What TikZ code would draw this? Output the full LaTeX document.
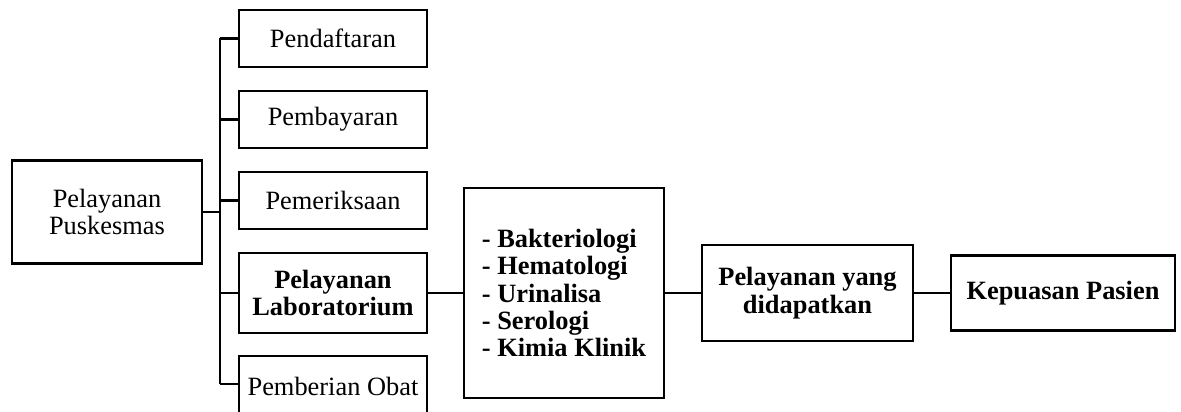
\documentclass[tikz,border=0pt]{standalone}
\usepackage{fontspec}
\setmainfont{Liberation Serif}
\begin{document}
\begin{tikzpicture}[x=1pt,y=-1pt,
  box/.style={draw, line width=2.2pt, inner sep=2pt, align=center,
    font=\fontsize{26.4}{27.4}\selectfont},
  conn/.style={line width=2.2pt}]
\useasboundingbox (0,0) rectangle (1181,412);
\node[box, minimum width=190pt, minimum height=103pt] (pus) at (107,212) {Pelayanan\\Puskesmas};
\node[box, minimum width=188pt, minimum height=57pt] (pend) at (333,38.5) {Pendaftaran};
\node[box, minimum width=188pt, minimum height=57pt] (bayar) at (333,119.5) {Pembayaran};
\node[box, minimum width=188pt, minimum height=57pt] (periksa) at (333,200.5) {Pemeriksaan};
\node[box, minimum width=188pt, minimum height=80pt] (lab) at (333,293) {\textbf{Pelayanan}\\\textbf{Laboratorium}};
\node[box, minimum width=188pt, minimum height=60pt] (obat) at (333,386) {Pemberian Obat};
\node[box, align=left, minimum width=200pt, minimum height=210pt] (bak) at (564,293) {\textbf{- Bakteriologi}\\\textbf{- Hematologi}\\\textbf{- Urinalisa}\\\textbf{- Serologi}\\\textbf{- Kimia Klinik}};
\node[box, minimum width=211pt, minimum height=96pt] (dapat) at (807.5,293) {\textbf{Pelayanan yang}\\\textbf{didapatkan}};
\node[box, minimum width=224pt, minimum height=75pt] (puas) at (1063,293) {\textbf{Kepuasan Pasien}};
\coordinate (bus) at (220,0);
\draw[conn] (bus |- pend.west) -- (bus |- 0,384);
\draw[conn] (pus.east) -- (pus.east -| bus);
\draw[conn] (bus |- pend.west) -- (pend.west);
\draw[conn] (bus |- bayar.west) -- (bayar.west);
\draw[conn] (bus |- periksa.west) -- (periksa.west);
\draw[conn] (bus |- lab.west) -- (lab.west);
\draw[conn] (bus |- 0,384) -- (obat.west |- 0,384);
\draw[conn] (lab.east) -- (bak.west);
\draw[conn] (bak.east) -- (dapat.west);
\draw[conn] (dapat.east) -- (puas.west);
\end{tikzpicture}
\end{document}
